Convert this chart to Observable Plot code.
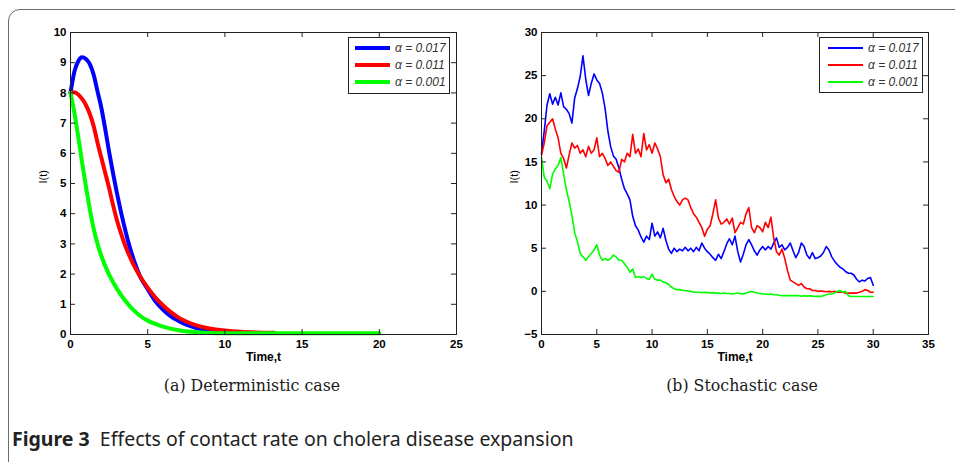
<!DOCTYPE html>
<html><head><meta charset="utf-8">
<script src="https://cdn.jsdelivr.net/npm/d3@7"></script>
<script src="https://cdn.jsdelivr.net/npm/@observablehq/plot@0.6"></script>
<style>
body{margin:0;background:#fff;width:955px;height:462px;overflow:hidden;position:relative;font-family:"Liberation Sans",Arial,sans-serif;}
#box{position:absolute;left:8px;top:9px;width:1000px;height:520px;border:1.5px solid #6b6b6b;border-radius:12px;}
.panel{position:absolute;top:0}
.legend{position:absolute;background:#fff;border:1px solid #222;box-sizing:border-box;}
.lline{position:absolute;width:35px;}
.ltext{position:absolute;font-family:"Liberation Sans",Arial,sans-serif;font-style:italic;font-size:12px;color:#333;line-height:14px;white-space:nowrap;}
.sub{position:absolute;top:376px;font-family:"DejaVu Serif","Liberation Serif",serif;font-size:15.8px;color:#1a1a1a;white-space:nowrap;transform:translateX(-50%);}
#cap{position:absolute;left:12px;top:425px;font-family:"Noto Sans","Open Sans",sans-serif;font-size:19.5px;color:#222;white-space:nowrap;letter-spacing:0px;}
</style></head>
<body>
<div id="box"></div>
<div id="left" class="panel" style="left:0"></div>
<div id="right" class="panel" style="left:480px"></div>
<div class="sub" style="left:252px">(a) Deterministic case</div>
<div class="sub" style="left:742px">(b) Stochastic case</div>
<div id="cap"><b>Figure 3</b>&nbsp; Effects of contact rate on cholera disease expansion</div>
<script>
// ---- data ----
const seriesNames = ["α = 0.017", "α = 0.011", "α = 0.001"];
const seriesColors = ["#0000ff", "#ff0000", "#00ff00"];

// (a) deterministic
const detTBlue = [0,0.25,0.5,0.75,1,1.25,1.5,1.75,2,2.25,2.5,2.75,3,3.25,3.5,3.75,4,4.25,4.5,5,5.5,6,6.5,7,7.5,8,8.5,9,9.5,10];
const detBlue  = [8.0,8.7,9.05,9.18,9.12,8.95,8.6,8.05,7.5,6.8,6.05,5.35,4.7,4.1,3.55,3.05,2.62,2.25,1.93,1.5,1.1,0.82,0.6,0.45,0.33,0.24,0.17,0.12,0.08,0.06];
const detTRed  = [0,0.25,0.5,0.75,1,1.25,1.5,1.75,2,2.25,2.5,2.75,3,3.25,3.5,3.75,4,4.5,5,5.5,6,6.5,7,7.5,8,9,10,11,12,13.2];
const detRed   = [8.0,8.02,7.95,7.8,7.6,7.3,6.9,6.35,5.85,5.35,4.85,4.3,3.8,3.38,3.0,2.68,2.4,1.93,1.55,1.22,0.96,0.74,0.56,0.43,0.33,0.2,0.13,0.09,0.07,0.06];
const detTGreen= [0,0.25,0.5,0.75,1,1.25,1.5,1.75,2,2.5,3,3.5,4,4.5,5,5.5,6,7,8,9,10,12,15,20];
const detGreen = [8.0,7.35,6.55,5.7,4.9,4.15,3.5,3.0,2.6,1.98,1.52,1.15,0.85,0.62,0.46,0.35,0.26,0.14,0.08,0.05,0.04,0.04,0.04,0.04];

// (b) stochastic, sampled every 0.25 time units from t = 0 to 30
const stoT = d3.range(0, 30.001, 0.25);
const stoBlue = [
16.0,18.6,21.6,22.9,21.7,22.5,21.6,23.0,
21.4,21.1,20.6,19.5,22.4,23.5,24.9,27.3,
24.6,22.7,24.1,25.2,24.5,24.1,23.0,21.2,
18.6,16.8,15.7,15.3,14.3,13.0,11.9,11.3,
10.6,8.7,7.6,7.1,6.3,5.7,6.4,6.0,
7.9,6.4,6.9,6.2,7.3,5.9,4.9,4.4,
5.0,4.6,4.9,4.7,5.1,4.7,5.0,4.6,
5.1,4.7,5.6,5.0,4.6,4.3,3.9,3.6,
4.3,3.8,4.6,5.5,6.1,5.4,6.4,4.6,
3.4,4.3,5.4,6.0,5.4,4.7,4.2,4.8,
5.2,4.8,5.2,4.9,5.6,6.2,5.1,5.4,
4.8,5.1,5.6,4.7,3.9,4.5,5.6,5.2,
4.2,3.8,4.5,3.8,3.9,4.1,4.5,5.2,
4.8,4.0,3.5,3.1,2.8,2.6,2.3,2.1,
2.1,1.9,1.4,1.1,1.3,1.2,1.5,1.6,
0.7];
const stoRed = [
15.8,17.2,19.2,19.6,20.0,18.8,17.8,16.0,
15.4,14.3,15.8,17.2,16.6,16.9,16.0,16.4,
15.6,16.8,16.0,16.4,17.8,15.6,16.0,15.4,
14.6,15.0,14.5,14.0,13.8,15.3,15.0,16.0,
15.6,18.2,16.0,16.5,15.6,18.3,16.4,17.0,
16.0,17.2,16.5,15.6,13.5,12.6,13.0,11.8,
11.0,10.4,10.0,10.6,10.8,10.6,9.7,9.0,
8.6,8.0,7.4,6.4,7.2,7.6,9.0,10.6,
8.5,7.8,8.0,8.4,7.8,8.5,6.8,7.4,
8.0,7.8,9.0,9.7,7.4,6.8,7.6,7.4,
6.9,8.0,7.4,8.6,6.2,4.6,4.2,4.9,
3.8,2.4,1.3,1.1,0.9,0.7,0.9,0.5,
0.3,0.3,0.1,0.1,0.0,0.05,0.0,-0.05,
0.0,-0.05,0.0,-0.1,-0.1,-0.1,-0.2,-0.2,
-0.2,-0.2,-0.2,-0.1,0.0,0.2,0.1,-0.1,
-0.1];
const stoGreen = [
15.5,13.2,12.8,11.9,13.6,14.2,14.6,15.5,
13.6,11.8,10.4,8.8,6.8,5.8,4.4,4.0,
3.6,4.0,4.4,4.8,5.4,4.2,3.6,3.8,
3.6,3.8,4.2,4.0,3.6,3.6,3.2,2.8,
2.2,2.6,1.6,1.7,1.6,1.7,1.5,1.4,
2.0,1.4,1.3,1.3,1.1,1.0,0.8,0.5,
0.3,0.2,0.2,0.1,0.1,0.05,0.0,-0.1,
-0.1,-0.1,-0.15,-0.1,-0.15,-0.2,-0.15,-0.2,
-0.2,-0.25,-0.2,-0.25,-0.25,-0.3,-0.25,-0.2,
-0.25,-0.3,-0.2,-0.1,0.0,-0.1,-0.2,-0.25,
-0.3,-0.3,-0.35,-0.3,-0.4,-0.4,-0.45,-0.5,
-0.5,-0.5,-0.5,-0.5,-0.5,-0.5,-0.55,-0.5,
-0.55,-0.5,-0.55,-0.6,-0.55,-0.6,-0.5,-0.4,
-0.3,-0.3,-0.2,0.0,0.1,-0.1,0.0,-0.5,
-0.6,-0.6,-0.6,-0.6,-0.6,-0.6,-0.6,-0.6,
-0.6];

const xTicksA = [0,5,10,15,20,25];
const yTicksA = [0,1,2,3,4,5,6,7,8,9,10];
const xTicksB = [0,5,10,15,20,25,30,35];
const yTicksB = [-5,0,5,10,15,20,25,30];
const xLabel = "Time,t";
const yLabel = "I(t)";

// ---- helpers ----
const pts = (ts, vs) => ts.map((t, i) => ({t, v: vs[i]}));
const axisColor = "#222";

function panel({width, marginLeft, marginRight, xDomain, yDomain, xTicks, yTicks, lines, strokeWidth, curve}) {
  const height = 370, marginTop = 32, marginBottom = 36;
  const fw = width - marginLeft - marginRight;
  const fh = height - marginTop - marginBottom;
  const tl = 5;
  return Plot.plot({
    width, height, marginLeft, marginRight, marginTop, marginBottom,
    x: {domain: xDomain}, y: {domain: yDomain},
    style: {fontFamily: "'Liberation Sans', Arial, sans-serif", fontSize: "11.5px", fontWeight: "bold", color: "#000", background: "transparent", overflow: "visible"},
    marks: [
      ...lines.map(l => Plot.line(l.data, {x: "t", y: "v", stroke: l.color, strokeWidth, curve})),
      Plot.frame({stroke: axisColor}),
      Plot.axisX(xTicks, {tickSize: 0, tickPadding: 5, label: null, fill: "#000"}),
      Plot.axisY(yTicks, {tickSize: 0, tickPadding: 4, label: null, fill: "#000"}),
      Plot.tickX(xTicks, {x: d => d, insetTop: fh - tl, stroke: axisColor}),
      Plot.tickX(xTicks, {x: d => d, insetBottom: fh - tl, stroke: axisColor}),
      Plot.tickY(yTicks, {y: d => d, insetRight: fw - tl, stroke: axisColor}),
      Plot.tickY(yTicks, {y: d => d, insetLeft: fw - tl, stroke: axisColor}),
      Plot.text([xLabel], {frameAnchor: "bottom", dy: 26, text: d => d, fontSize: 12, fontWeight: "bold"}),
      Plot.text([yLabel], {frameAnchor: "left", dx: -27, rotate: -90, text: d => d, fontSize: 11, fontWeight: "normal"})
    ]
  });
}

document.getElementById("left").appendChild(panel({
  width: 480, marginLeft: 70, marginRight: 24,
  xDomain: [0, 25], yDomain: [0, 10], xTicks: xTicksA, yTicks: yTicksA,
  strokeWidth: 4, curve: "monotone-x",
  lines: [
    {data: pts(detTBlue, detBlue), color: seriesColors[0]},
    {data: pts(detTRed, detRed), color: seriesColors[1]},
    {data: pts(detTGreen, detGreen), color: seriesColors[2]}
  ]
}));

document.getElementById("right").appendChild(panel({
  width: 475, marginLeft: 61, marginRight: 27,
  xDomain: [0, 35], yDomain: [-5, 30], xTicks: xTicksB, yTicks: yTicksB,
  strokeWidth: 1.6, curve: "linear",
  lines: [
    {data: pts(stoT, stoBlue), color: seriesColors[0]},
    {data: pts(stoT, stoRed), color: seriesColors[1]},
    {data: pts(stoT, stoGreen), color: seriesColors[2]}
  ]
}));

// legends
function legend(left, top, w, h, lineLeft, textLeft, thick) {
  const box = document.createElement("div");
  box.className = "legend";
  Object.assign(box.style, {left: left + "px", top: top + "px", width: w + "px", height: h + "px"});
  seriesNames.forEach((name, i) => {
    const cy = 10 + i * 17;
    const ln = document.createElement("div");
    ln.className = "lline";
    Object.assign(ln.style, {left: lineLeft + "px", top: (cy - thick / 2) + "px", height: thick + "px", background: seriesColors[i]});
    const tx = document.createElement("div");
    tx.className = "ltext";
    Object.assign(tx.style, {left: textLeft + "px", top: (cy - 7) + "px"});
    tx.textContent = name;
    box.appendChild(ln); box.appendChild(tx);
  });
  document.body.appendChild(box);
}
legend(348, 37, 102, 57, 6, 46, 4);
legend(819, 37, 104, 56, 8, 48, 2);
</script>
</body></html>
